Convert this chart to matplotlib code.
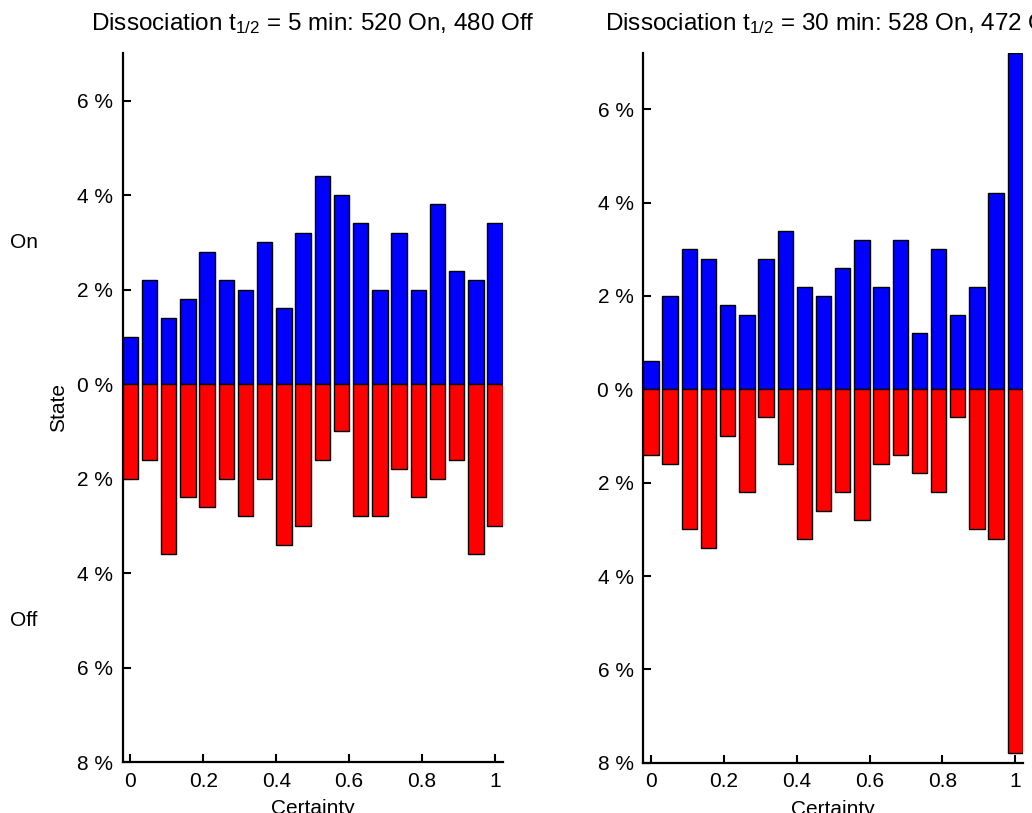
import numpy as np
import matplotlib
matplotlib.use("Agg")
import matplotlib.pyplot as plt

plt.rcParams['font.family'] = ['Liberation Sans', 'DejaVu Sans']
plt.rcParams['mathtext.fontset'] = 'custom'
plt.rcParams['mathtext.rm'] = 'Liberation Sans'
plt.rcParams['mathtext.it'] = 'Liberation Sans'

# Bin centres (Certainty), 20 bins from 0 to 1
certainty = np.linspace(0, 1, 20)

# Panel 1: t1/2 = 5 min (percent)
on_5 = [1.0, 2.2, 1.4, 1.8, 2.8, 2.2, 2.0, 3.0, 1.6, 3.2,
        4.4, 4.0, 3.4, 2.0, 3.2, 2.0, 3.8, 2.4, 2.2, 3.4]
off_5 = [2.0, 1.6, 3.6, 2.4, 2.6, 2.0, 2.8, 2.0, 3.4, 3.0,
         1.6, 1.0, 2.8, 2.8, 1.8, 2.4, 2.0, 1.6, 3.6, 3.0]

# Panel 2: t1/2 = 30 min (percent)
on_30 = [0.6, 2.0, 3.0, 2.8, 1.8, 1.6, 2.8, 3.4, 2.2, 2.0,
         2.6, 3.2, 2.2, 3.2, 1.2, 3.0, 1.6, 2.2, 4.2, 7.2]
off_30 = [1.4, 1.6, 3.0, 3.4, 1.0, 2.2, 0.6, 1.6, 3.2, 2.6,
          2.2, 2.8, 1.6, 1.4, 1.8, 2.2, 0.6, 3.0, 3.2, 7.8]

titles = [r"Dissociation t$_{1/2}$ = 5 min: 520 On, 480 Off",
          r"Dissociation t$_{1/2}$ = 30 min: 528 On, 472 Off"]
yticks = [-8, -6, -4, -2, 0, 2, 4, 6]
ytick_labels = ["%d %%" % abs(v) for v in yticks]
xticks = [0, 0.2, 0.4, 0.6, 0.8, 1]
xtick_labels = ["0", "0.2", "0.4", "0.6", "0.8", "1"]

W, H = 1032, 813
fig = plt.figure(figsize=(W / 100, H / 100), dpi=100)

fs = 15
positions = [
    [122.7 / W, 1 - 762 / H, (502.7 - 122.7) / W, (762 - 53.3) / H],
    [643.3 / W, 1 - 762.7 / H, (1023 - 643.3) / W, (762.7 - 53.3) / H],
]
ylims = [(-8, 7.0), (-8, 7.2)]
data = [(on_5, off_5), (on_30, off_30)]

width = 0.8 / 19
for i in range(2):
    ax = fig.add_axes(positions[i])
    on, off = data[i]
    ax.bar(certainty, on, width=width, color=(0, 0, 1), edgecolor='black',
           linewidth=1.0, zorder=3)
    ax.bar(certainty, -np.array(off), width=width, color=(1, 0, 0),
           edgecolor='black', linewidth=1.0, zorder=3)
    ax.set_xlim(-0.021, 1.021)
    ax.set_ylim(*ylims[i])
    ax.set_yticks(yticks)
    ax.set_yticklabels(ytick_labels)
    ax.set_xticks(xticks)
    ax.set_xticklabels(xtick_labels)
    ax.tick_params(direction='in', length=6, width=1.5, labelsize=fs, pad=7)
    ax.spines['top'].set_visible(False)
    ax.spines['right'].set_visible(False)
    ax.spines['left'].set_linewidth(1.6)
    ax.spines['bottom'].set_linewidth(1.6)
    ax.set_xlabel("Certainty", fontsize=fs, labelpad=6)
    ax.set_title(titles[i], fontsize=17.5, pad=17)
    if i == 0:
        ax.set_ylabel("State", fontsize=fs, labelpad=6)

fig.text(10 / W, 1 - 242 / H, "On", fontsize=fs, ha='left', va='center')
fig.text(10 / W, 1 - 621 / H, "Off", fontsize=fs, ha='left', va='center')

fig.savefig("out.png", dpi=100)
